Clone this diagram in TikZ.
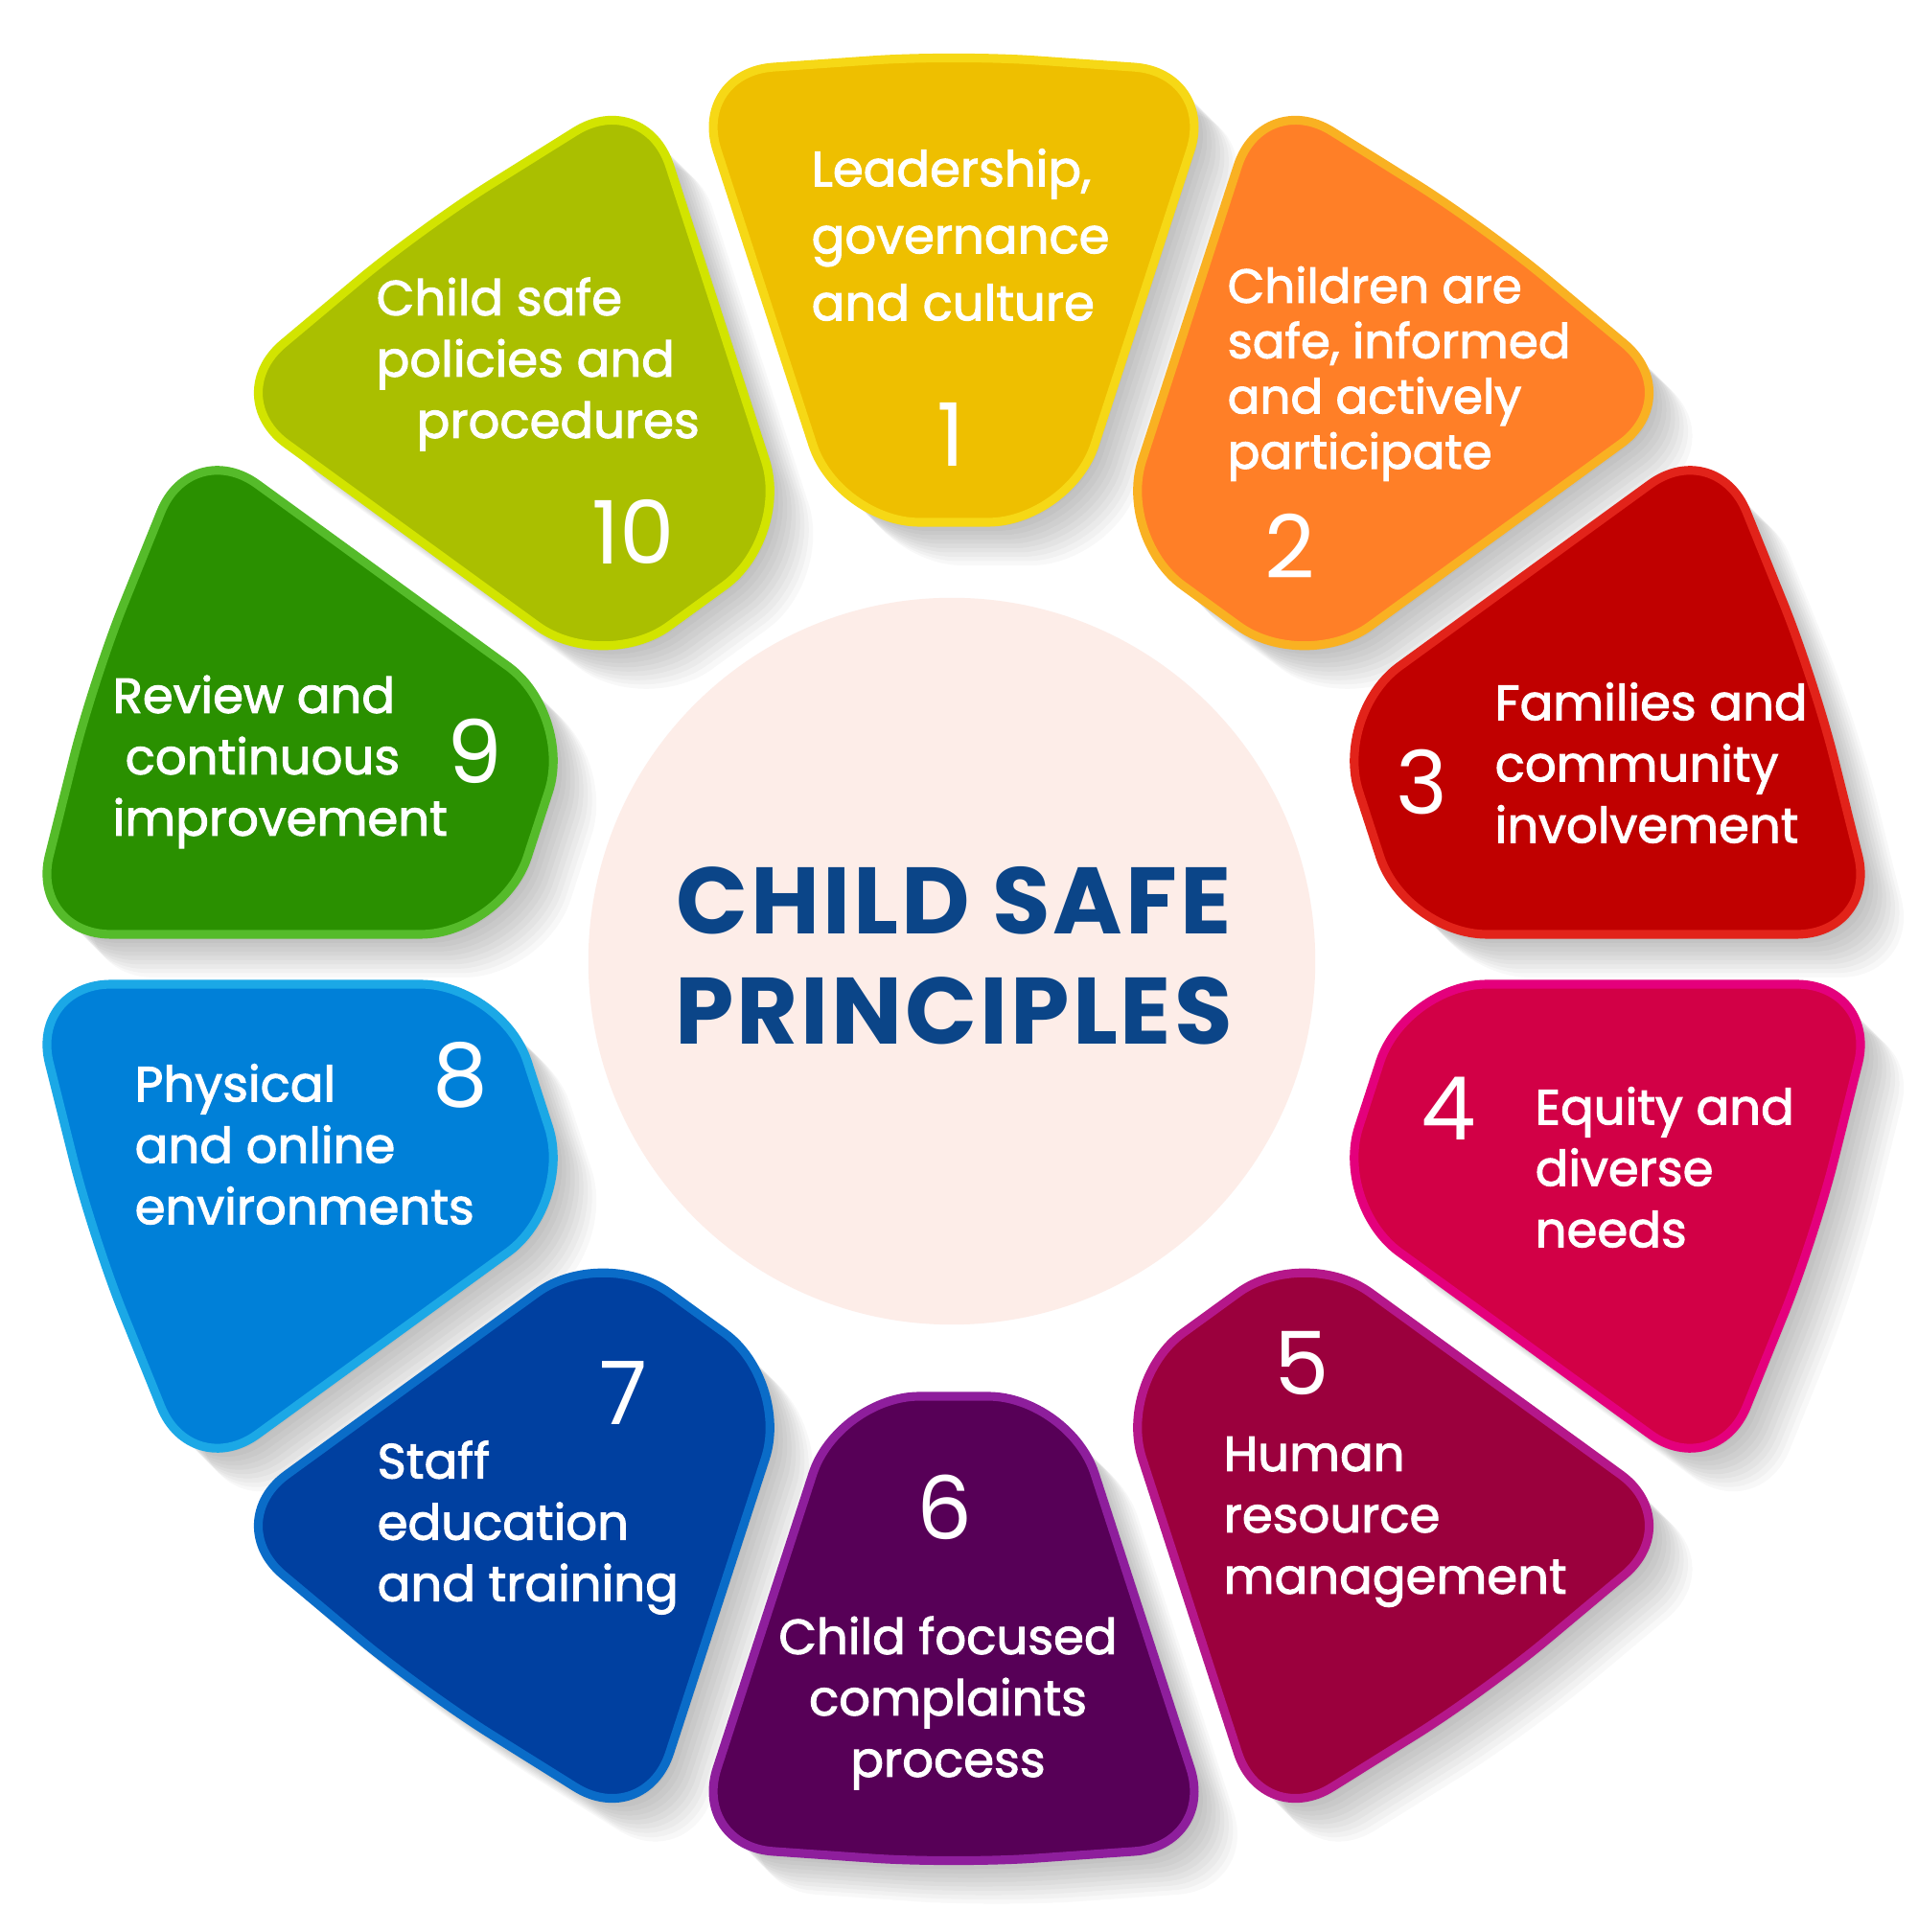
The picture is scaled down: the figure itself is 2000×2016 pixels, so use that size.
\documentclass[tikz,border=0pt]{standalone}
\usepackage{fontspec}
\setmainfont{Poppins}
\newfontfamily\segfont{Poppins}[FakeBold=2]
\usetikzlibrary{calc}

\definecolor{seg1fill}{HTML}{EEBF00}
\definecolor{seg1line}{HTML}{F6D816}
\definecolor{seg2fill}{HTML}{FF7F27}
\definecolor{seg2line}{HTML}{F9B122}
\definecolor{seg3fill}{HTML}{C00000}
\definecolor{seg3line}{HTML}{E2231A}
\definecolor{seg4fill}{HTML}{D20046}
\definecolor{seg4line}{HTML}{E4007C}
\definecolor{seg5fill}{HTML}{9B003D}
\definecolor{seg5line}{HTML}{B5178A}
\definecolor{seg6fill}{HTML}{570057}
\definecolor{seg6line}{HTML}{8E1E9C}
\definecolor{seg7fill}{HTML}{0040A0}
\definecolor{seg7line}{HTML}{0A6CC8}
\definecolor{seg8fill}{HTML}{0080D8}
\definecolor{seg8line}{HTML}{1BA8E6}
\definecolor{seg9fill}{HTML}{2A9000}
\definecolor{seg9line}{HTML}{55BB2A}
\definecolor{seg10fill}{HTML}{AABF00}
\definecolor{seg10line}{HTML}{D2E400}
\definecolor{centrefill}{HTML}{FDEDE8}
\definecolor{titleblue}{HTML}{0B4588}

\begin{document}
\begin{tikzpicture}[x=0.01cm, y=0.01cm,
        seg/.style 2 args={fill=#1, draw=#2, line width=2.6pt, rounded corners=0.85cm},
        seglabel/.style={inner sep=0pt, text=white, align=left, anchor=west,
            font=\segfont\fontsize{14.6}{#1}\selectfont},
        seglabel/.default=18.2,
        segnum/.style={inner sep=0pt, text=white, font=\fontsize{26}{26}\selectfont}]
        % one segment, pointing up; start half way along a long side
        \def\petal{(197,690.5) -- (273.2,925) -- (0,944) -- (-273.2,925) -- (-120.8,456) -- (120.8,456) -- cycle}

        % Page size and background
        \fill[white] (-995,-1015) rectangle (1005,1001);
        \useasboundingbox (-995,-1015) rectangle (1005,1001);
        \coordinate (O) at (0,0);

        % Soft shadows of the segments
        \foreach \a in {90,54,...,-234} {
            \foreach \s in {1,...,10} {
                \fill[black, opacity=0.028, shift={(4.5*\s,-4.5*\s)}, rotate=\a-90, rounded corners=0.85cm] \petal;
            }
        }

        % Centre disc
        \fill[centrefill] (-2,-2) circle[radius=3.79cm];

        % Draw the ten segments
        \draw[seg={seg1fill}{seg1line}, rotate=0] \petal;
        \draw[seg={seg2fill}{seg2line}, rotate=-36] \petal;
        \draw[seg={seg3fill}{seg3line}, rotate=-72] \petal;
        \draw[seg={seg4fill}{seg4line}, rotate=-108] \petal;
        \draw[seg={seg5fill}{seg5line}, rotate=-144] \petal;
        \draw[seg={seg6fill}{seg6line}, rotate=-180] \petal;
        \draw[seg={seg7fill}{seg7line}, rotate=-216] \petal;
        \draw[seg={seg8fill}{seg8line}, rotate=-252] \petal;
        \draw[seg={seg9fill}{seg9line}, rotate=-288] \petal;
        \draw[seg={seg10fill}{seg10line}, rotate=-324] \petal;

        % Title
        \node[text=titleblue, align=center, font=\bfseries\fontsize{28}{32.6}\selectfont\addfontfeatures{LetterSpace=3}] (title) at (0,4) {CHILD SAFE\\PRINCIPLES};

        % Labels of the segments
        \node[seglabel=19.9] (t1) at (-149,756) {Leadership,\\governance\\and culture};
        \node[seglabel=16.4, font=\segfont\fontsize{14.2}{16.4}\selectfont] (t2) at (285,611) {Children are\\safe, informed\\and actively\\participate};
        \node[seglabel] (t3) at (564,205) {Families and\\community\\involvement};
        \node[seglabel] (t4) at (606,-217) {Equity and\\diverse\\needs};
        \node[seglabel] (t5) at (281,-587) {Human\\resource\\management};
        \node[seglabel, align=center, anchor=center] (t6) at (-6,-776) {Child focused\\complaints\\process};
        \node[seglabel] (t7) at (-602,-593) {Staff\\education\\and training};
        \node[seglabel] (t8) at (-855,-193) {Physical\\and online\\environments};
        \node[seglabel] (t9) at (-878,206) {Review and\\\hspace*{0.13cm}continuous\\improvement};
        \node[seglabel] (t10) at (-603,621) {Child safe\\policies and\\\hspace*{0.42cm}procedures};

        % Numbers
        \node[segnum] (n1) at (-3,548) {1};
        \node[segnum] (n2) at (351,431) {2};
        \node[segnum] (n3) at (488,185) {3};
        \node[segnum] (n4) at (516,-156) {4};
        \node[segnum] (n5) at (363,-421) {5};
        \node[segnum] (n6) at (-9,-572) {6};
        \node[segnum] (n7) at (-345,-453) {7};
        \node[segnum] (n8) at (-515,-121) {8};
        \node[segnum] (n9) at (-500,217) {9};
        \node[segnum] (n10) at (-334,446) {10};
\end{tikzpicture}
\end{document}
